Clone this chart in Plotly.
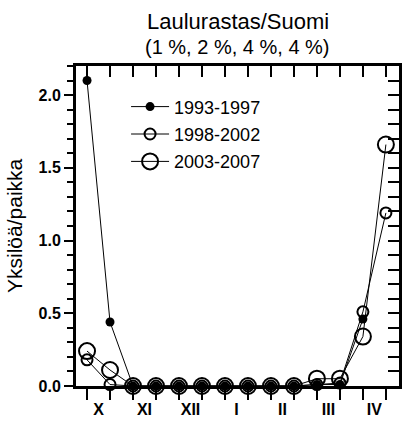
import plotly.graph_objects as go

months = ["X", "XI", "XII", "I", "II", "III", "IV"]
periods = ["1993-1997", "1998-2002", "2003-2007"]
s1993 = [2.10, 0.44, 0, 0, 0, 0, 0, 0, 0, 0, 0.01, 0.01, 0.46, None]
s1998 = [0.18, 0.01, 0, 0, 0, 0, 0, 0, 0, 0, 0.01, 0.02, 0.51, 1.19]
s2003 = [0.24, 0.11, 0, 0, 0, 0, 0, 0, 0, 0, 0.05, 0.05, 0.34, 1.66]
yticks = [0.0, 0.5, 1.0, 1.5, 2.0]

n = len(s1993)
xs = list(range(n))
FONT = "Arial, Liberation Sans, sans-serif"

fig = go.Figure()
styles = [
    dict(size=9, color="black", symbol="circle", line=dict(width=0)),
    dict(size=11, color="rgba(0,0,0,0)", symbol="circle", line=dict(width=2, color="black")),
    dict(size=16, color="rgba(0,0,0,0)", symbol="circle", line=dict(width=2, color="black")),
]
for i, (name, vals) in enumerate(zip(periods, [s1993, s1998, s2003])):
    fig.add_trace(go.Scatter(
        x=xs, y=vals, name=name, mode="lines+markers",
        line=dict(color="black", width=1), marker=styles[i],
        legendgroup=name, cliponaxis=False,
    ))
# invisible helper trace to attach the top/right axes
fig.add_trace(go.Scatter(x=[xs[0]], y=[0], xaxis="x2", yaxis="y2", mode="markers",
                         marker=dict(opacity=0), showlegend=False, hoverinfo="skip"))

xr = [-0.48, 13.57]
yr = [0, 2.2]
fig.update_layout(
    width=402, height=421,
    margin=dict(l=76, r=3, t=66, b=29),
    paper_bgcolor="white", plot_bgcolor="white",
    font=dict(family=FONT, color="black"),
    showlegend=True,
    legend=dict(x=0.155, y=0.93, xanchor="left", yanchor="top", itemwidth=38,
                font=dict(size=18, family=FONT, color="black"),
                bgcolor="rgba(0,0,0,0)", tracegroupgap=1, traceorder="grouped"),
    xaxis=dict(range=xr, tickmode="array",
               tickvals=[2 * i + 0.5 for i in range(len(months))], ticktext=months,
               ticks="outside", ticklen=0, tickcolor="black",
               tickfont=dict(size=16, family=FONT, weight="bold", color="black"),
               ticklabelstandoff=7,
               minor=dict(tickmode="array", tickvals=xs, ticks="outside", ticklen=11, tickwidth=2, tickcolor="black"),
               showline=True, linewidth=3, linecolor="black", showgrid=False, zeroline=False),
    xaxis2=dict(range=xr, overlaying="x", side="top", anchor="y", tickmode="array", tickvals=xs,
                ticks="inside", ticklen=11, tickwidth=2, tickcolor="black", showticklabels=False,
                showline=True, linewidth=2.5, linecolor="black", showgrid=False, zeroline=False),
    yaxis=dict(range=yr, tickmode="array", tickvals=yticks, ticktext=[f"{v:.1f}" for v in yticks],
               ticks="outside", ticklen=9, tickwidth=2, tickcolor="black",
               tickfont=dict(size=16, family=FONT, weight="bold", color="black"),
               minor=dict(dtick=0.1, tick0=0, ticks="outside", ticklen=6, tickwidth=2, tickcolor="black"),
               showline=True, linewidth=3, linecolor="black", showgrid=False, zeroline=False),
    yaxis2=dict(range=yr, overlaying="y", side="right", anchor="x", tickmode="linear", tick0=0, dtick=0.1,
                ticks="inside", ticklen=11, tickwidth=2, tickcolor="black", showticklabels=False,
                showline=True, linewidth=2.5, linecolor="black", showgrid=False, zeroline=False),
    annotations=[
        dict(text="Laulurastas/Suomi", xref="paper", yref="paper", x=0.5, y=(392 - 21) / 326,
             xanchor="center", yanchor="middle", showarrow=False, font=dict(size=22, family=FONT)),
        dict(text="(1 %, 2 %, 4 %, 4 %)", xref="paper", yref="paper", x=0.5, y=(392 - 47) / 326,
             xanchor="center", yanchor="middle", showarrow=False, font=dict(size=20, family=FONT)),
        dict(text="Yksilöä/paikka", xref="paper", yref="paper", x=(14 - 76) / 323, y=0.5,
             xanchor="center", yanchor="middle", textangle=-90, showarrow=False, font=dict(size=21, family=FONT)),
    ],
)
fig.write_html("out.html")
